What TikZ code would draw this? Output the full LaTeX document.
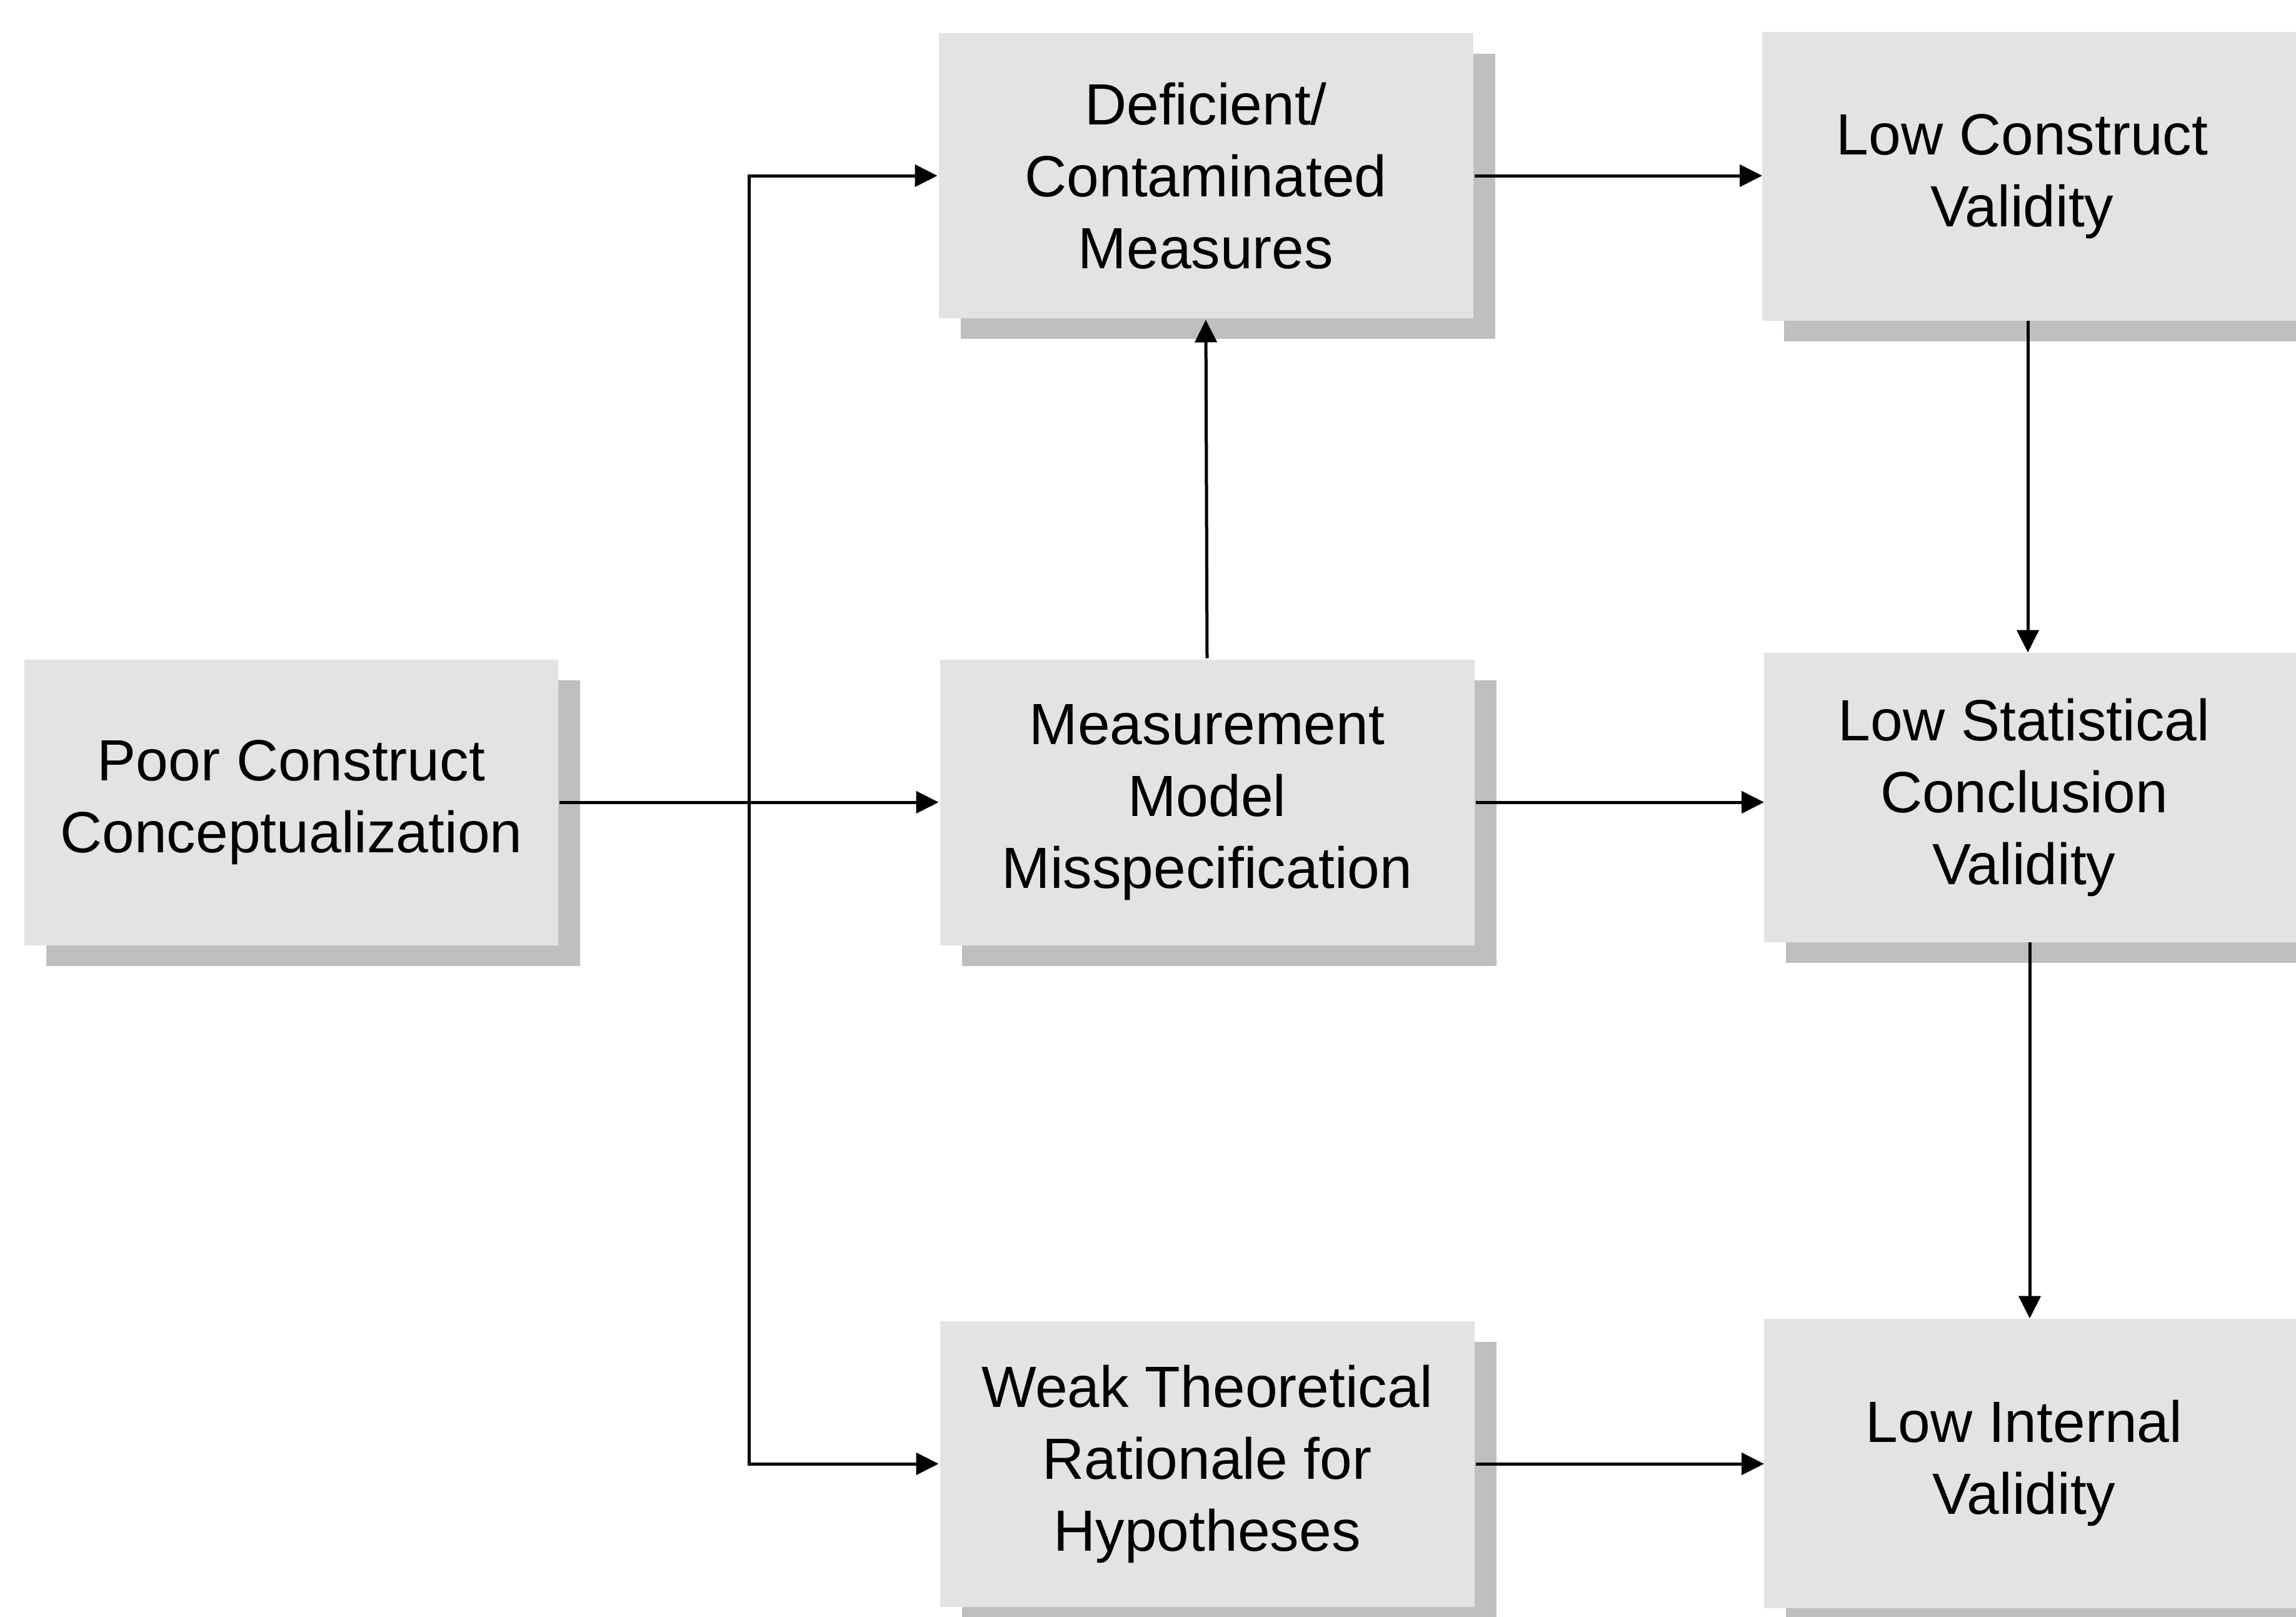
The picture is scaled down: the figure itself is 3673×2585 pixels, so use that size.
\documentclass[tikz,border=0pt]{standalone}
\usepackage{fontspec}
\setmainfont{Liberation Sans}
\usetikzlibrary{arrows.meta,shadows,calc}
\pgfdeclarelayer{bg}
\pgfsetlayers{bg,main}
\definecolor{boxgray}{HTML}{E3E3E3}
\definecolor{shadowgray}{HTML}{BFBFBF}
\tikzset{
  card/.style={rectangle, fill=boxgray, minimum width=85.5pt, minimum height=45.7pt,
    align=center, inner sep=0pt, font=\fontsize{9.3pt}{11.5pt}\selectfont,
    drop shadow={shadow xshift=3.5pt, shadow yshift=-3.3pt, fill=shadowgray, opacity=1}},
  edgecard/.style={rectangle, minimum width=82.8pt, minimum height=45.9pt,
    align=center, inner sep=0pt, font=\fontsize{9.3pt}{11.5pt}\selectfont},
  flow/.style={line width=0.5pt, -{Triangle[length=3.6pt,width=3.5pt]}},
  wire/.style={line width=0.5pt}
}
\begin{document}
\begin{tikzpicture}[x=0.1pt, y=-0.1pt]
\useasboundingbox (0,0) rectangle (3673,2585);
\clip (0,0) rectangle (3673,2585);

% left and middle columns
\node[card] (poor) at (466,1283) {Poor Construct\\Conceptualization};
\node[card] (def)  at (1929,281) {Deficient/\\Contaminated\\Measures};
\node[card] (meas) at (1931,1283) {Measurement\\Model\\Misspecification};
\node[card] (weak) at (1931,2341) {Weak Theoretical\\Rationale for\\Hypotheses};

% right column: boxes run past the right margin
\node[edgecard] (lcv)  at (3235,282)  {Low Construct\\Validity};
\node[edgecard] (lst)  at (3238,1275) {Low Statistical\\Conclusion\\Validity};
\node[edgecard] (lint) at (3238,2340) {Low Internal\\Validity};
\begin{pgfonlayer}{bg}
  \foreach \n in {lcv,lst,lint}{
    \fill[shadowgray] ([shift={(35,33)}]\n.north west) rectangle ([shift={(400,33)}]\n.south east);
    \fill[boxgray] (\n.north west) rectangle ([xshift=40pt]\n.south east);
  }
\end{pgfonlayer}

% connectors
\coordinate (jn) at ($(poor.east)!0.5!(meas.west)$);
\draw[flow] (poor.east) -- (meas.west);
\draw[flow] (jn) |- (def.west);
\draw[flow] (jn) |- (weak.west);
\draw[flow] (meas.north) -- (def.south);
\draw[flow] (def.east) -- (def.east -| lcv.west);
\draw[flow] (meas.east) -- (meas.east -| lst.west);
\draw[flow] (weak.east) -- (weak.east -| lint.west);
\draw[flow] ([xshift=0.9pt]lcv.south) -- ([xshift=0.9pt]lcv.south |- lst.north);
\draw[flow] ([xshift=0.9pt]lst.south) -- ([xshift=0.9pt]lst.south |- lint.north);
\end{tikzpicture}
\end{document}
